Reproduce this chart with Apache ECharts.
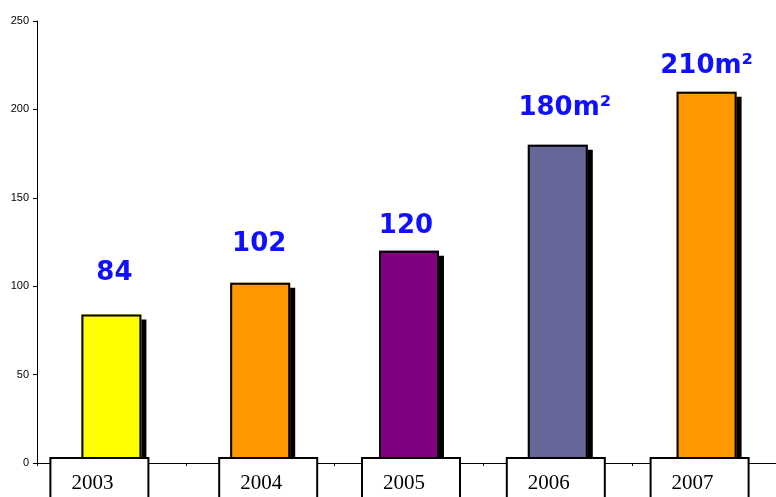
<!DOCTYPE html>
<html><head><meta charset="utf-8">
<script src="https://cdn.jsdelivr.net/npm/echarts@6/dist/echarts.min.js"></script>
<style>html,body{margin:0;padding:0;background:#fff}#c{width:776px;height:497px}</style>
</head><body><div id="c"></div>
<script>
const categories = ['2003', '2004', '2005', '2006', '2007'];
const values = [84, 102, 120, 180, 210];
const valueLabels = ['84', '102', '120', '180m²', '210m²'];
const barColors = ['#FFFF00', '#FF9900', '#800080', '#666699', '#FF9900'];
const yTicks = [0, 50, 100, 150, 200, 250];

// layout tweaks (pixels): horizontal shift of each category box, offsets of value labels
const boxShift = [-12, 8, 2, -2, -7];
const valueLabelOffset = [[3, 0], [-1, 3], [-3, 16], [7, 4], [0, 16]];

const rich = {
  b: {
    fontFamily: 'Liberation Serif', fontSize: 21, color: '#000',
    backgroundColor: '#fff', borderColor: '#000', borderWidth: 2,
    padding: [14, 34, 20, 20]
  }
};
boxShift.forEach((s, i) => { rich['s' + i] = { width: Math.abs(s) * 2, fontSize: 1 }; });

const chart = echarts.init(document.getElementById('c'));
chart.setOption({
  animation: false,
  grid: { left: 37, right: -5, top: 21, bottom: 34, containLabel: false, outerBoundsMode: 'none' },
  xAxis: {
    type: 'category',
    data: categories,
    z: 10,
    axisLine: { lineStyle: { color: '#000', width: 1 } },
    axisTick: { show: true, length: 3, lineStyle: { color: '#000' } },
    axisLabel: {
      margin: -4,
      align: 'center',
      verticalAlign: 'top',
      formatter: (v, i) => boxShift[i] < 0 ? `{b|${v}}{s${i}| }` : `{s${i}| }{b|${v}}`,
      rich: rich
    }
  },
  yAxis: {
    type: 'value',
    min: yTicks[0],
    max: yTicks[yTicks.length - 1],
    interval: 50,
    splitLine: { show: false },
    axisLine: { show: true, lineStyle: { color: '#000', width: 1 } },
    axisTick: { show: true, length: 4, lineStyle: { color: '#000' } },
    axisLabel: { fontFamily: 'Liberation Sans', fontSize: 11, color: '#000', margin: 8 }
  },
  series: [{
    type: 'bar',
    barWidth: 60,
    barGap: '-100%',
    data: values.map((v, i) => ({ value: v, itemStyle: { color: barColors[i] } })),
    itemStyle: {
      borderWidth: 0,
      shadowColor: '#000',
      shadowBlur: 0,
      shadowOffsetX: 5,
      shadowOffsetY: 5
    }
  }, {
    type: 'bar',
    barWidth: 60,
    barGap: '-100%',
    data: values.map((v, i) => ({
      value: v,
      label: { formatter: valueLabels[i], offset: valueLabelOffset[i] }
    })),
    itemStyle: {
      color: 'rgba(0,0,0,0)',
      borderColor: '#000',
      borderWidth: 2
    },
    label: {
      show: true,
      position: 'top',
      distance: 28,
      color: '#1010FF',
      fontFamily: 'DejaVu Sans',
      fontWeight: 'bold',
      fontSize: 26
    }
  }]
});
</script></body></html>
